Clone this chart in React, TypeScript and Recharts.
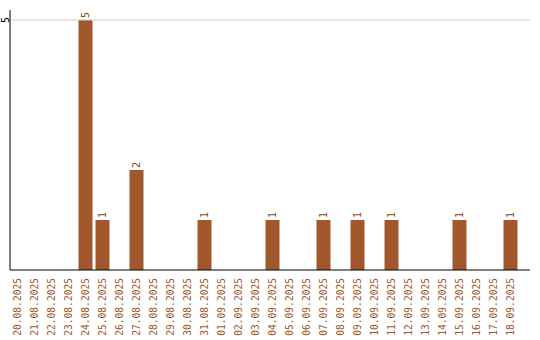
import React from 'react';
import { BarChart, Bar, XAxis, YAxis, ReferenceLine, LabelList } from 'recharts';

// daily counts, 20.08.2025 – 18.09.2025
const days = [
  '20.08.2025', '21.08.2025', '22.08.2025', '23.08.2025', '24.08.2025',
  '25.08.2025', '26.08.2025', '27.08.2025', '28.08.2025', '29.08.2025',
  '30.08.2025', '31.08.2025', '01.09.2025', '02.09.2025', '03.09.2025',
  '04.09.2025', '05.09.2025', '06.09.2025', '07.09.2025', '08.09.2025',
  '09.09.2025', '10.09.2025', '11.09.2025', '12.09.2025', '13.09.2025',
  '14.09.2025', '15.09.2025', '16.09.2025', '17.09.2025', '18.09.2025',
];
const counts = [
  0, 0, 0, 0, 5,
  1, 0, 2, 0, 0,
  0, 1, 0, 0, 0,
  1, 0, 0, 1, 0,
  1, 0, 1, 0, 0,
  0, 1, 0, 0, 1,
];
const yTicks = [5];

const data = days.map((day, i) => ({ day, count: counts[i] }));

const BAR = '#a0572b';
const FONT = '"DejaVu Sans Mono", monospace';

// tick y already sits 8px below the axis line
const DayTick = ({ x, y, payload }: any) => (
  <text
    transform={`translate(${x},${y}) rotate(-90)`}
    textAnchor="end"
    dominantBaseline="central"
    fontFamily={FONT}
    fontSize={9.6}
    fill={BAR}
  >
    {payload.value}
  </text>
);

const CountTick = ({ x, y, payload }: any) => (
  <text
    transform={`translate(${x + 3},${y}) rotate(-90)`}
    textAnchor="middle"
    dominantBaseline="central"
    fontFamily={FONT}
    fontSize={10}
    fill="#000"
  >
    {payload.value}
  </text>
);

const ValueLabel = ({ x, y, width, value }: any) => {
  if (!value) return null;
  const cx = x + width / 2;
  return (
    <text
      transform={`translate(${cx},${y - 2}) rotate(-90)`}
      textAnchor="start"
      dominantBaseline="central"
      fontFamily={FONT}
      fontSize={10}
      fill="#8b4513"
    >
      {value}
    </text>
  );
};

export default function App() {
  return (
    <div style={{ position: 'absolute', left: 0, top: 0, background: '#fff' }}>
      <BarChart
        width={540}
        height={340}
        data={data}
        margin={{ top: 10, right: 10, left: 0, bottom: 0 }}
        barSize={14}
      >
        <XAxis
          dataKey="day"
          interval={0}
          height={70}
          tickLine={false}
          axisLine={{ stroke: '#000' }}
          tick={<DayTick />}
          padding={{ left: -1.5, right: 11.5 }}
        />
        <YAxis
          width={10}
          domain={[0, 5]}
          ticks={yTicks}
          tickLine={false}
          axisLine={{ stroke: '#000' }}
          tick={<CountTick />}
          padding={{ top: 10 }}
        />
        {yTicks.map((t) => (
          <ReferenceLine key={t} y={t} stroke="#cccccc" />
        ))}
        <Bar dataKey="count" fill={BAR} isAnimationActive={false}>
          <LabelList dataKey="count" content={<ValueLabel />} />
        </Bar>
      </BarChart>
    </div>
  );
}
